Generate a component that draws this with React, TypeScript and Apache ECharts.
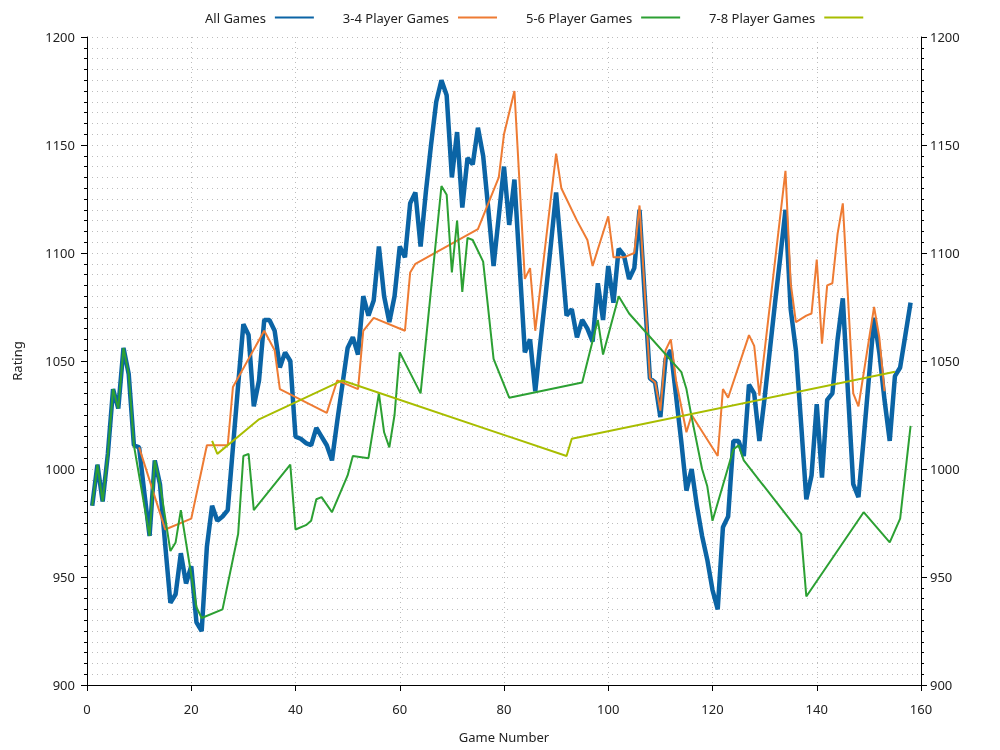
import React, { useEffect, useRef } from "react";
import * as echarts from "echarts";

// All Games rating, game 1..158
const allGamesRatings = [
  983, 1002, 985, 1007, 1037, 1028, 1056, 1044, 1011, 1010, 989, 969, 1004, 993, 965, 938, 942, 961, 947, 955, 929, 925,
  964, 983, 976, 978, 981, 1010, 1039, 1067, 1062, 1029, 1041, 1069, 1069, 1064, 1047, 1054, 1050, 1015, 1014, 1012, 1011, 1019, 1015, 1011, 1004,
  1022, 1039, 1056, 1061, 1053, 1080, 1071, 1078, 1103, 1080, 1068, 1080, 1103, 1098, 1123, 1128, 1103, 1128, 1150, 1170, 1180, 1173,
  1135, 1156, 1121, 1144, 1141, 1158, 1145, 1120, 1094, 1117, 1140, 1113, 1134, 1094, 1054, 1060, 1036, 1059, 1081, 1104, 1128, 1100,
  1071, 1074, 1061, 1069, 1065, 1059, 1086, 1069, 1094, 1077, 1102, 1099, 1088, 1093, 1120, 1080, 1042, 1040, 1024, 1051, 1055, 1034, 1013,
  990, 1000, 983, 969, 958, 944, 935, 973, 978, 1013, 1013, 1006, 1039, 1035, 1013, 1033, 1055, 1077, 1098, 1120, 1074, 1055, 1021,
  986, 997, 1030, 996, 1032, 1035, 1060, 1079, 1035, 993, 987, 1014, 1042, 1070, 1054, 1032, 1013, 1043, 1047, 1062, 1077,
];

const games34 = [
  10, 15, 20, 23, 27, 28, 34, 36, 37, 46, 48, 52, 53, 55, 61, 62, 63, 75, 79, 80, 82, 84, 85, 86, 90, 91, 94, 96, 97, 100,
  101, 103, 105, 106, 108, 109, 110, 111, 112, 113, 115, 116, 121, 122, 123, 127, 128, 129, 134, 135, 136, 138, 139, 140,
  141, 142, 143, 144, 145, 147, 148, 151, 152, 153,
];
const ratings34 = [
  1010, 972, 977, 1011, 1011, 1038, 1064, 1055, 1037, 1026, 1041, 1037, 1064, 1070, 1064, 1091, 1095, 1111, 1135, 1155, 1175,
  1088, 1093, 1064, 1146, 1130, 1115, 1106, 1094, 1117, 1098, 1098, 1100, 1122, 1042, 1040, 1027, 1055, 1060, 1041, 1017,
  1025, 1006, 1037, 1033, 1062, 1057, 1034, 1138, 1086, 1068, 1071, 1072, 1097, 1058, 1085, 1086, 1109, 1123, 1035, 1029,
  1075, 1061, 1036,
];

const games56 = [
  1, 2, 3, 4, 5, 6, 7, 8, 9, 12, 13, 14, 16, 17, 18, 21, 22, 26, 29, 30, 31, 32, 39, 40, 42, 43, 44, 45, 47, 50, 51, 54,
  56, 57, 58, 59, 60, 64, 68, 69, 70, 71, 72, 73, 74, 76, 78, 81, 95, 98, 99, 102, 104, 114, 115, 116, 118, 119, 120, 124,
  125, 126, 137, 138, 149, 154, 156, 158,
];
const ratings56 = [
  983, 1002, 985, 1007, 1037, 1028, 1056, 1044, 1011, 969, 1004, 993, 962, 966, 981, 936, 931, 935, 970, 1006, 1007, 981,
  1002, 972, 974, 976, 986, 987, 980, 997, 1006, 1005, 1035, 1017, 1010, 1025, 1054, 1035, 1131, 1127, 1091, 1115, 1082,
  1107, 1106, 1096, 1051, 1033, 1040, 1069, 1053, 1080, 1072, 1045, 1037, 1024, 1000, 992, 976, 1009, 1011, 1004, 970,
  941, 980, 966, 977, 1020,
];

const games78 = [24, 25, 33, 49, 92, 93, 155];
const ratings78 = [1013, 1007, 1023, 1041, 1006, 1014, 1045];

const seriesNames = ["All Games", "3-4 Player Games", "5-6 Player Games", "7-8 Player Games"];
const seriesColors = ["#0b64a5", "#ee7b33", "#2ca033", "#a8bd00"];

const FONT = "'Noto Sans', 'Open Sans', sans-serif";

export default function App() {
  const ref = useRef<HTMLDivElement>(null);

  useEffect(() => {
    const chart = echarts.init(ref.current as HTMLDivElement, null, { renderer: "svg" });
    const pairs = (g: number[], v: number[]) => g.map((x, i) => [x, v[i]]);
    const allPairs = allGamesRatings.map((v, i) => [i + 1, v]);
    const dotted = { show: true, lineStyle: { color: "#bdbdbd", type: [1, 4], width: 1 } };
    const labelStyle = { color: "#222", fontSize: 13, fontFamily: FONT };
    const axisLineStyle = { show: true, lineStyle: { color: "#000", width: 1 } };
    const plain = (v: number) => String(v);

    const mk = (idx: number, data: number[][], width: number) => ({
      name: seriesNames[idx],
      type: "line",
      data,
      showSymbol: false,
      symbol: "none",
      lineStyle: { color: seriesColors[idx], width },
      itemStyle: { color: seriesColors[idx] },
      emphasis: { disabled: true },
    });

    chart.setOption({
      animation: false,
      textStyle: { fontFamily: FONT },
      legend: {
        top: 6,
        left: 200,
        align: "right",
        itemWidth: 39,
        itemHeight: 12,
        itemGap: 28,
        itemStyle: { opacity: 0 },
        textStyle: { color: "#222", fontSize: 13, fontFamily: FONT, padding: [0, 4, 0, 0] },
        data: seriesNames,
      },
      grid: { left: 87, right: 79, top: 37, bottom: 65 },
      xAxis: {
        type: "value",
        min: 0,
        max: 160,
        interval: 20,
        name: "Game Number",
        nameLocation: "middle",
        nameGap: 45,
        nameTextStyle: labelStyle,
        axisLine: { ...axisLineStyle, onZero: false },
        axisTick: { show: true, length: 6, lineStyle: { color: "#000" } },
        axisLabel: { ...labelStyle, margin: 17, formatter: plain },
        splitLine: dotted,
      },
      yAxis: [
        {
          type: "value",
          position: "left",
          min: 900,
          max: 1200,
          interval: 50,
          name: "Rating",
          nameLocation: "middle",
          nameGap: 64,
          nameTextStyle: labelStyle,
          axisLine: axisLineStyle,
          axisTick: { show: true, length: 6, lineStyle: { color: "#000" } },
          minorTick: { show: true, splitNumber: 10, length: 3, lineStyle: { color: "#000" } },
          axisLabel: { ...labelStyle, margin: 12, formatter: plain },
          splitLine: dotted,
          minorSplitLine: dotted,
        },
        {
          type: "value",
          position: "right",
          min: 900,
          max: 1200,
          interval: 50,
          axisLine: axisLineStyle,
          axisTick: { show: true, length: 6, lineStyle: { color: "#000" } },
          minorTick: { show: true, splitNumber: 10, length: 3, lineStyle: { color: "#000" } },
          axisLabel: { ...labelStyle, margin: 9, formatter: plain },
          splitLine: { show: false },
        },
      ],
      series: [
        mk(0, allPairs, 4.5),
        mk(1, pairs(games34, ratings34), 2),
        mk(2, pairs(games56, ratings56), 2),
        mk(3, pairs(games78, ratings78), 2),
      ],
    });
    return () => chart.dispose();
  }, []);

  return <div ref={ref} style={{ position: "fixed", left: 0, top: 0, width: 1000, height: 750 }} />;
}
